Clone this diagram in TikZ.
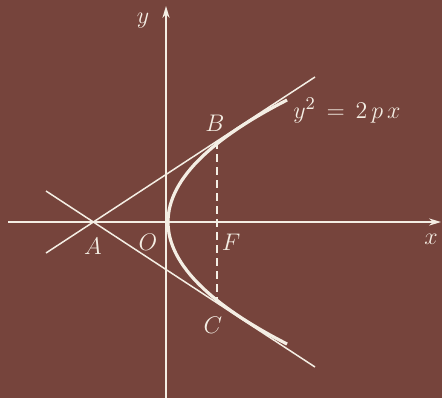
\documentclass[tikz,border=0pt]{standalone}
\usepackage{amsmath, amssymb}
\usetikzlibrary{arrows.meta}
\definecolor{board}{RGB}{118,68,60}
\definecolor{chalk}{RGB}{244,238,228}

\begin{document}
\begin{tikzpicture}[
  x=0.5pt, y=-0.5pt,
  axis/.style={-{Stealth[length=6pt, width=3.6pt]}, chalk, line width=0.75pt},
  tangent/.style={chalk, line width=0.75pt},
  curve/.style={chalk, line width=1.6pt},
  lbl/.style={text=chalk, inner sep=0pt, font=\fontsize{13}{15}\selectfont}
]
\fill[board] (0,0) rectangle (442,398);
\useasboundingbox (0,0) rectangle (442,398);

\coordinate (xl) at (8,222);
\coordinate (xr) at (441,222);
\coordinate (yb) at (166,398);
\coordinate (yt) at (166,6);
\coordinate (A) at (93,222);
\coordinate (O) at (168,222);
\coordinate (F) at (217,222);
\coordinate (B) at (217,141);
\coordinate (C) at (217,303);
\coordinate (t1) at (46,253);
\coordinate (t2) at (315,77);
\coordinate (t3) at (46,191);
\coordinate (t4) at (315,367);

\draw[axis] (xl) -- (xr);
\draw[axis] (yb) -- (yt);
\draw[tangent] (t1) -- (t2);
\draw[tangent] (t3) -- (t4);
\draw[tangent, dash pattern=on 4pt off 2.5pt] (B) -- (C);
\draw[curve] plot[domain=-122:122, samples=61, variable=\t] ({168+0.008*\t*\t}, {222+\t});

\node[lbl] (ly) at (143,21) {$y$};
\node[lbl] (lx) at (431,239) {$x$};
\node[lbl] (lA) at (93,246) {$A$};
\node[lbl] (lO) at (148,242) {$O$};
\node[lbl] (lF) at (231,242) {$F$};
\node[lbl] (lB) at (215,123) {$B$};
\node[lbl] (lC) at (213,325) {$C$};
\node[lbl, anchor=base west] (eq) at (293,118) {$y^2\,=\,2\,p\,x$};
\end{tikzpicture}
\end{document}
